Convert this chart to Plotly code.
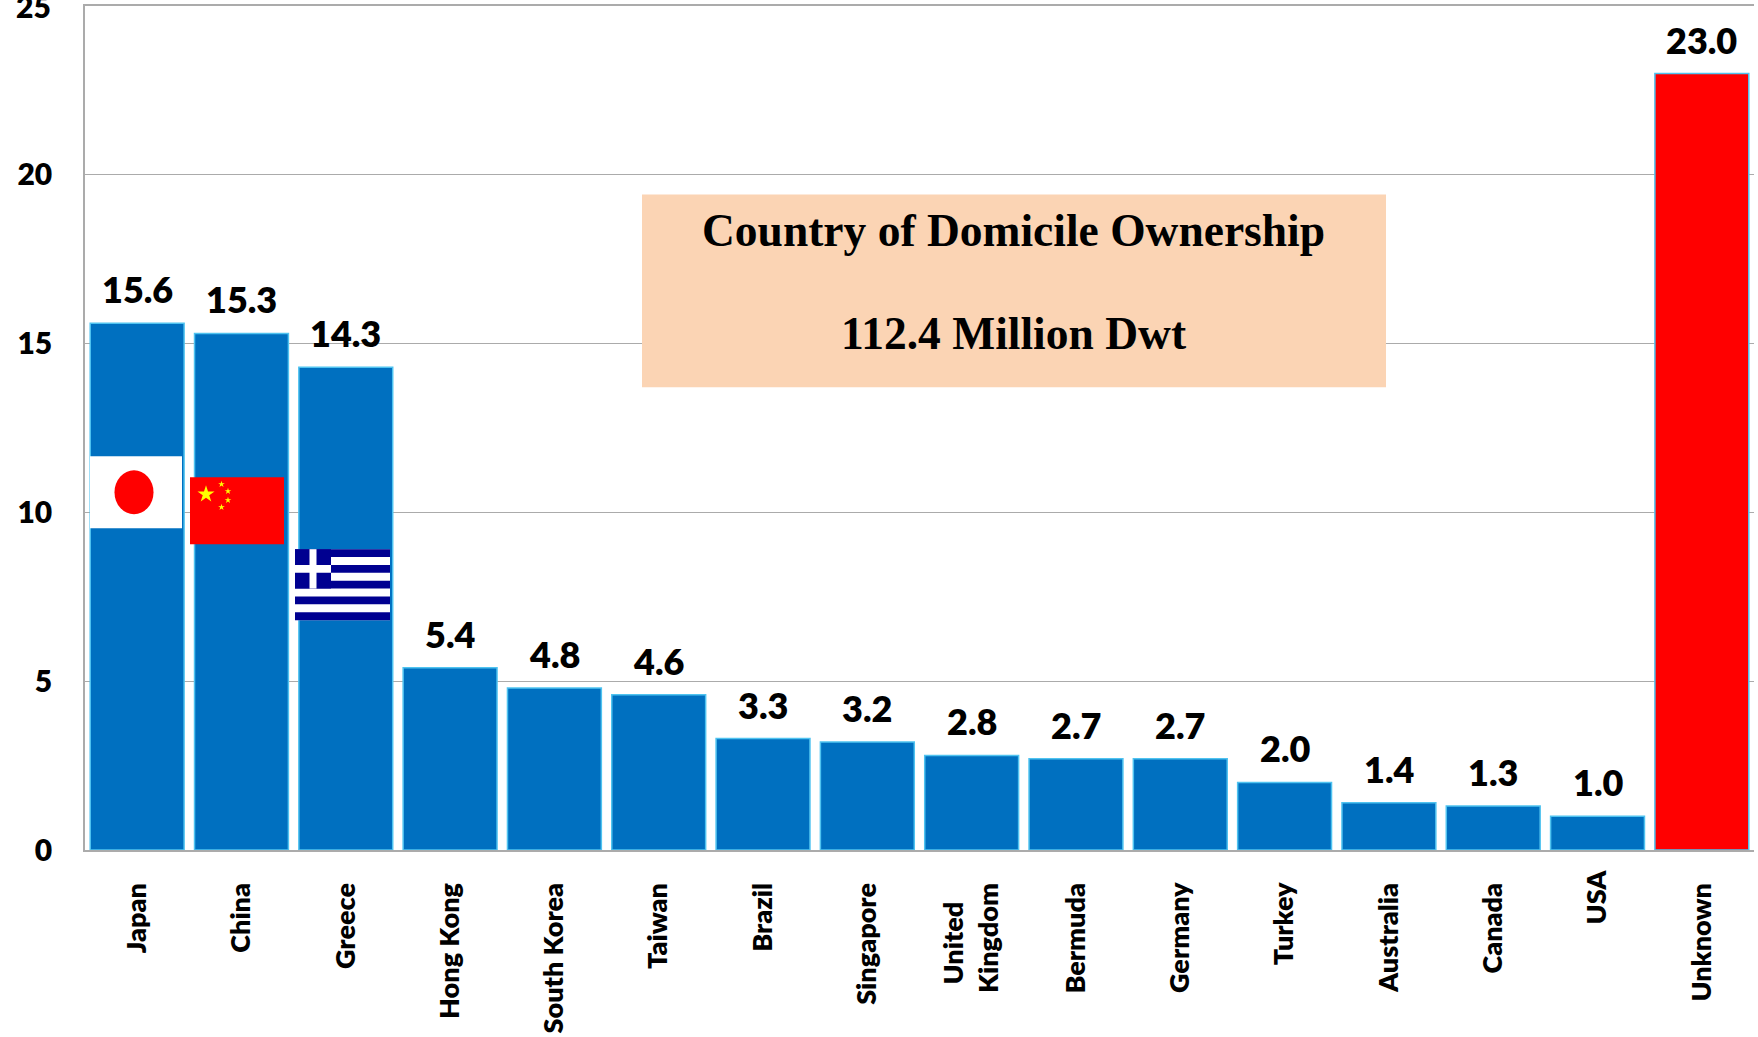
import math
import plotly.graph_objects as go

# Deadweight tonnage by country of domicile (million dwt)
countries = ["Japan", "China", "Greece", "Hong Kong", "South Korea", "Taiwan", "Brazil", "Singapore",
             "United<br>Kingdom", "Bermuda", "Germany", "Turkey", "Australia", "Canada", "USA", "Unknown"]
dwt = [15.6, 15.3, 14.3, 5.4, 4.8, 4.6, 3.3, 3.2, 2.8, 2.7, 2.7, 2.0, 1.4, 1.3, 1.0, 23.0]
y_ticks = [0, 5, 10, 15, 20, 25]
box_lines = ["Country of Domicile Ownership", "112.4 Million Dwt"]

W, H = 1758, 1037
L, R, T, B = 85, 1754, 5.5, 850
BLUE, RED, EDGE, GREY = "#0070C0", "#FF0000", "#4FC3F0", "#ABABAB"
SANS = "Lato, Carlito, sans-serif"
NBSP = "\u00a0"


def px(x):
    return (x - L) / (R - L)


def py(y):
    return (B - y) / (B - T)


def rect(x0, y0, x1, y1, color, layer="above"):
    return dict(type="rect", xref="paper", yref="paper", x0=px(x0), x1=px(x1), y0=py(y0), y1=py(y1),
                fillcolor=color, line_width=0, layer=layer)


def star(cx, cy, r, color):
    pts = []
    for i in range(10):
        rad = r if i % 2 == 0 else r * 0.38
        a = -math.pi / 2 + i * math.pi / 5
        pts.append((px(cx + rad * math.cos(a)), py(cy + rad * math.sin(a))))
    path = "M" + "L".join(f"{a:.5f},{b:.5f}" for a, b in pts) + "Z"
    return dict(type="path", xref="paper", yref="paper", path=path, fillcolor=color, line_width=0)


def tick_label(name):
    # USA sits closest to the axis; the two-line label is centred on its longer line
    if name == "USA":
        return name
    if "<br>" in name:
        first, second = name.split("<br>")
        return first + NBSP * 5 + "<br>" + second + NBSP * 2
    return name + NBSP * 2


shapes = [rect(642, 194, 1386, 387, "#FBD4B4")]

# Japan
shapes.append(rect(90, 456, 182, 528, "#FFFFFF"))
shapes.append(dict(type="circle", xref="paper", yref="paper", x0=px(114.5), x1=px(153.5), y0=py(470), y1=py(514),
                   fillcolor="#FF0000", line_width=0))

# China
shapes.append(rect(190, 477, 284, 544, "#FF0000"))
shapes.append(star(206, 494, 9, "#FFFF00"))
for sx, sy in [(221.5, 484), (228, 491), (228, 500), (221.5, 507)]:
    shapes.append(star(sx, sy, 3.5, "#FFFF00"))

# Greece
GX0, GX1, GY0, GY1 = 295, 390, 549, 620
band = (GY1 - GY0) / 9
shapes.append(rect(GX0, GY0, GX1, GY1, "#FFFFFF"))
for i in range(0, 9, 2):
    shapes.append(rect(GX0, GY0 + i * band, GX1, GY0 + (i + 1) * band, "#000090"))
shapes.append(rect(GX0, GY0, GX0 + 36, GY0 + 5 * band, "#000090"))
shapes.append(rect(GX0 + 14.5, GY0, GX0 + 21.5, GY0 + 5 * band, "#FFFFFF"))
shapes.append(rect(GX0, GY0 + 2 * band, GX0 + 36, GY0 + 3 * band, "#FFFFFF"))

positions = list(range(len(countries)))

fig = go.Figure(go.Bar(
    x=positions, y=dwt, width=0.9,
    marker=dict(color=[RED if c == "Unknown" else BLUE for c in countries],
                line=dict(color=EDGE, width=1.5)),
    hoverinfo="x+y",
))

TICK_FONT = dict(family=SANS, size=30, color="#000000", weight=800)

annotations = [dict(x=p, y=v, text=f"{v:.1f}", showarrow=False, xanchor="center", yanchor="bottom", yshift=10,
                    font=dict(family=SANS, size=36, color="#000000", weight=800))
               for p, v in zip(positions, dwt)]
annotations += [dict(xref="paper", yref="paper", x=px(1014), y=py(cy), text=line, showarrow=False,
                     xanchor="center", yanchor="middle",
                     font=dict(family="Liberation Serif", size=45.5, color="#000000", weight=700))
                for line, cy in zip(box_lines, [230, 333])]
# The axis drops its topmost label at the page edge, so it is placed separately
annotations.append(dict(xref="paper", yref="y", x=0, y=y_ticks[-1], text=str(y_ticks[-1]), showarrow=False,
                        xanchor="right", yanchor="middle", xshift=-32, font=TICK_FONT))

fig.update_layout(
    width=W, height=H, autosize=False,
    margin=dict(l=L, r=W - R, t=T, b=H - B, autoexpand=False),
    paper_bgcolor="#FFFFFF", plot_bgcolor="#FFFFFF",
    showlegend=False,
    shapes=shapes, annotations=annotations,
    xaxis=dict(range=[-0.5, 15.5], tickmode="array", tickvals=positions,
               ticktext=[tick_label(c) for c in countries],
               tickangle=-90, ticks="", showgrid=False, zeroline=False,
               showline=True, mirror=True, linecolor=GREY, linewidth=1.5,
               ticklabelstandoff=8, automargin=False,
               tickfont=dict(family=SANS, size=27, color="#000000", weight=800)),
    yaxis=dict(range=[0, 25], tickmode="array", tickvals=y_ticks[:-1], ticks="", showgrid=True, gridcolor=GREY,
               gridwidth=1.2, zeroline=False, showline=True, linecolor=GREY, linewidth=1.5,
               ticklabelstandoff=25, automargin=False,
               tickfont=TICK_FONT),
)

fig.write_html("out.html")
